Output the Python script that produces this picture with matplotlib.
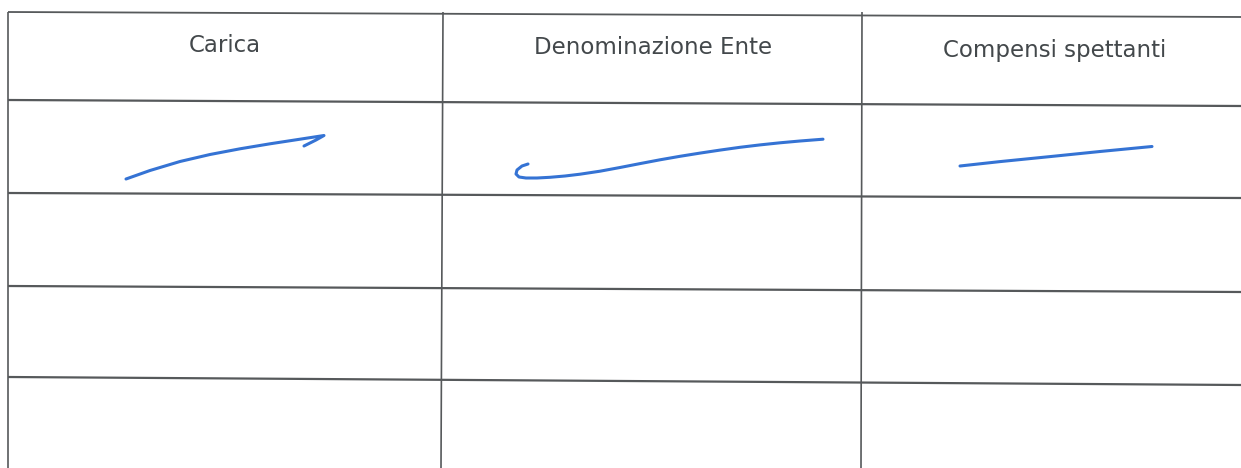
import matplotlib
matplotlib.use("Agg")
import matplotlib.pyplot as plt

# Table content
headers = ["Carica", "Denominazione Ente", "Compensi spettanti"]
header_x = [225, 653, 1055]
header_y = [45, 47, 51]

# Table grid (scan coordinates; slight tilt from scan)
col_lines_x_top = [8, 443, 862]
col_lines_x_bot = [8, 441, 861]
row_lines_left = [12, 100, 193, 286, 377]
row_lines_right = [17, 106, 198, 292, 385]

# Hand-drawn strokes (blue pen marks) in the first data row
stroke1_x = [126, 150, 180, 210, 240, 270, 300, 324, 316, 304]
stroke1_y = [179, 170.5, 161.5, 154.5, 148.8, 143.8, 139.2, 135.5, 140, 146]
stroke2_x = [528, 522, 517, 516, 519, 526, 537, 550, 565, 580, 600, 620, 640, 660, 680, 700, 720, 740, 760, 780, 800, 823]
stroke2_y = [164, 166, 170, 174, 177, 178, 178, 177.3, 176, 174.2, 171.2, 167.5, 163.6, 159.8, 156.3, 153.1, 150.1, 147.3, 144.9, 142.8, 141, 139.2]
stroke3_x = [960, 1000, 1050, 1100, 1152]
stroke3_y = [166, 161.6, 156.6, 151.5, 146.5]

W, H = 1241, 468
fig = plt.figure(figsize=(W / 100, H / 100), dpi=100)
ax = fig.add_axes([0, 0, 1, 1])
ax.set_xlim(0, W)
ax.set_ylim(H, 0)
ax.axis("off")

grid_color = "#56595b"
for i, (yl, yr) in enumerate(zip(row_lines_left, row_lines_right)):
    ax.plot([col_lines_x_top[0], W], [yl, yr], color=grid_color,
            lw=1.3 if i == 0 else 1.6, solid_capstyle="butt")
for xt, xb in zip(col_lines_x_top, col_lines_x_bot):
    ax.plot([xt, xb], [row_lines_left[0], H], color=grid_color, lw=1.2, solid_capstyle="butt")

for t, x, y in zip(headers, header_x, header_y):
    ax.text(x, y, t, ha="center", va="center", fontsize=16.5, color="#43484b",
            family="DejaVu Sans")

pen = "#3573d4"
for sx, sy in [(stroke1_x, stroke1_y), (stroke2_x, stroke2_y), (stroke3_x, stroke3_y)]:
    ax.plot(sx, sy, color=pen, lw=2.2, solid_capstyle="round", solid_joinstyle="round")

fig.savefig("out.png", dpi=100, facecolor="white")
